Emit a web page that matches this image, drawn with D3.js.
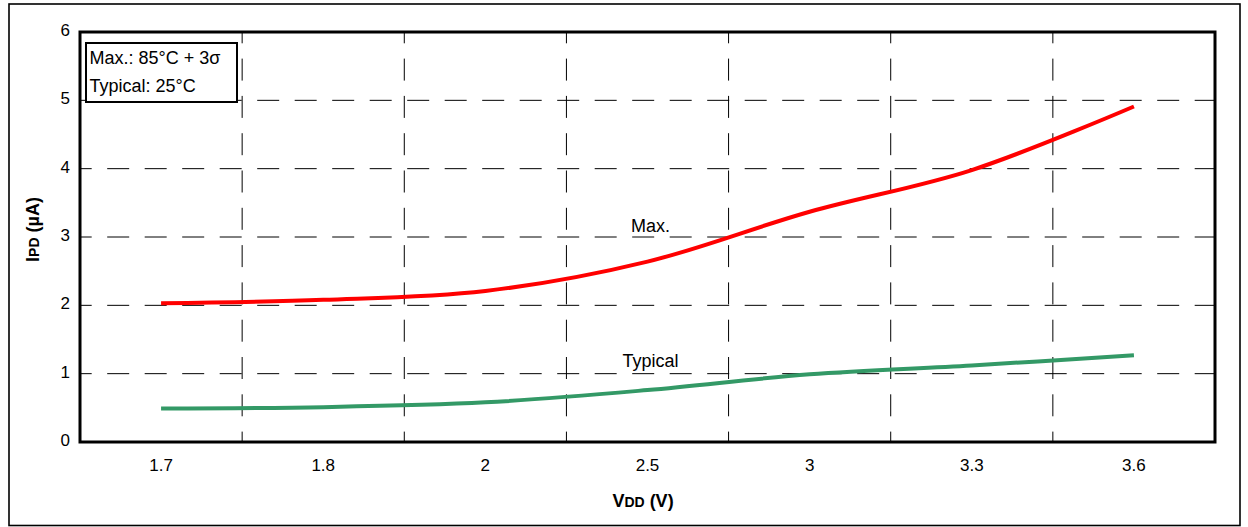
<!DOCTYPE html>
<html>
<head>
<meta charset="utf-8">
<script src="https://cdn.jsdelivr.net/npm/d3@7"></script>
<style>
  html, body { margin: 0; padding: 0; background: #fff; }
  svg { display: block; font-family: "Liberation Sans", Arial, sans-serif; }
</style>
</head>
<body>
<svg id="chart" width="1248" height="527"></svg>
<script>
const categories = ["1.7", "1.8", "2", "2.5", "3", "3.3", "3.6"];
const maxValues = [2.03, 2.08, 2.21, 2.64, 3.37, 3.98, 4.91];
const typicalValues = [0.49, 0.51, 0.58, 0.76, 0.99, 1.12, 1.27];
const yTicks = [0, 1, 2, 3, 4, 5, 6];
const legendLines = ["Max.: 85°C + 3σ", "Typical: 25°C"];
const seriesLabels = [
  { text: "Max.", category: "2.5", value: 3.07 },
  { text: "Typical", category: "2.5", value: 1.1 }
];

const svg = d3.select("#chart");
const plot = { left: 80, right: 1215, top: 32, bottom: 442 };

// outer frame
svg.append("rect")
  .attr("x", 9).attr("y", 4).attr("width", 1231).attr("height", 521.5)
  .attr("fill", "#fff").attr("stroke", "#000").attr("stroke-width", 1.6);

const x = d3.scaleBand().domain(categories).range([plot.left, plot.right]).padding(0);
const y = d3.scaleLinear().domain([0, 6]).range([plot.bottom, plot.top]);
const xc = d => x(d) + x.bandwidth() / 2;

// horizontal grid
const g = svg.append("g");
g.selectAll("line.hgrid").data(yTicks.filter(t => t > 0 && t < 6)).enter().append("line")
  .attr("x1", plot.left).attr("x2", plot.right)
  .attr("y1", d => y(d)).attr("y2", d => y(d))
  .attr("stroke", "#000").attr("stroke-width", 1)
  .attr("stroke-dasharray", "22 15.5").attr("stroke-dashoffset", 10.3);

// vertical grid at band boundaries
g.selectAll("line.vgrid").data(categories.slice(1)).enter().append("line")
  .attr("x1", d => x(d)).attr("x2", d => x(d))
  .attr("y1", plot.top).attr("y2", plot.bottom)
  .attr("stroke", "#000").attr("stroke-width", 1)
  .attr("stroke-dasharray", "22 15.3").attr("stroke-dashoffset", 10.7);

// lines
const line = d3.line()
  .x((d, i) => xc(categories[i]))
  .y(d => y(d))
  .curve(d3.curveCatmullRom.alpha(0.5));

svg.append("path").datum(typicalValues)
  .attr("d", line).attr("fill", "none")
  .attr("stroke", "#339966").attr("stroke-width", 4);

svg.append("path").datum(maxValues)
  .attr("d", line).attr("fill", "none")
  .attr("stroke", "#ff0000").attr("stroke-width", 4);

// plot border
svg.append("rect")
  .attr("x", plot.left).attr("y", plot.top)
  .attr("width", plot.right - plot.left).attr("height", plot.bottom - plot.top)
  .attr("fill", "none").attr("stroke", "#000").attr("stroke-width", 3);

// y axis labels
const yAxis = d3.axisLeft(y).tickValues(yTicks).tickSize(0).tickPadding(10).tickFormat(d3.format("d"));
const ya = svg.append("g").attr("transform", `translate(${plot.left},0)`).call(yAxis);
ya.select(".domain").remove();
ya.selectAll("text")
  .attr("font-family", "Liberation Sans, Arial, sans-serif")
  .attr("font-size", 17).attr("fill", "#000")
  .attr("dy", "0.2em");

// x axis labels
const xAxis = d3.axisBottom(x).tickSize(0).tickPadding(0);
const xa = svg.append("g").attr("transform", `translate(0,${plot.bottom})`).call(xAxis);
xa.select(".domain").remove();
xa.selectAll("text")
  .attr("font-family", "Liberation Sans, Arial, sans-serif")
  .attr("font-size", 17).attr("fill", "#000")
  .attr("y", 28.5).attr("dy", 0);

// x title
const xt = svg.append("text")
  .attr("x", 643).attr("y", 506.5).attr("text-anchor", "middle")
  .attr("font-size", 18).attr("font-weight", "bold");
xt.append("tspan").text("V");
xt.append("tspan").attr("font-size", 14).text("DD");
xt.append("tspan").text(" (V)");

// y title
const yt = svg.append("text")
  .attr("transform", `translate(39,${(plot.top + plot.bottom) / 2 - 7.5}) rotate(-90)`)
  .attr("text-anchor", "middle")
  .attr("font-size", 18).attr("font-weight", "bold");
yt.append("tspan").text("I");
yt.append("tspan").attr("font-size", 14).text("PD");
yt.append("tspan").text(" (µA)");

// series labels
svg.selectAll("text.slabel").data(seriesLabels).enter().append("text")
  .attr("x", d => xc(d.category) + 3).attr("y", d => y(d.value))
  .attr("text-anchor", "middle").attr("font-size", 18).attr("fill", "#000")
  .text(d => d.text);

// legend box
svg.append("rect")
  .attr("x", 86).attr("y", 43).attr("width", 151).attr("height", 59)
  .attr("fill", "#fff").attr("stroke", "#000").attr("stroke-width", 2);
svg.selectAll("text.leg").data(legendLines).enter().append("text")
  .attr("x", 89.5).attr("y", (d, i) => 63.5 + i * 28)
  .attr("font-size", 18).attr("fill", "#000")
  .text(d => d);
</script>
</body>
</html>
